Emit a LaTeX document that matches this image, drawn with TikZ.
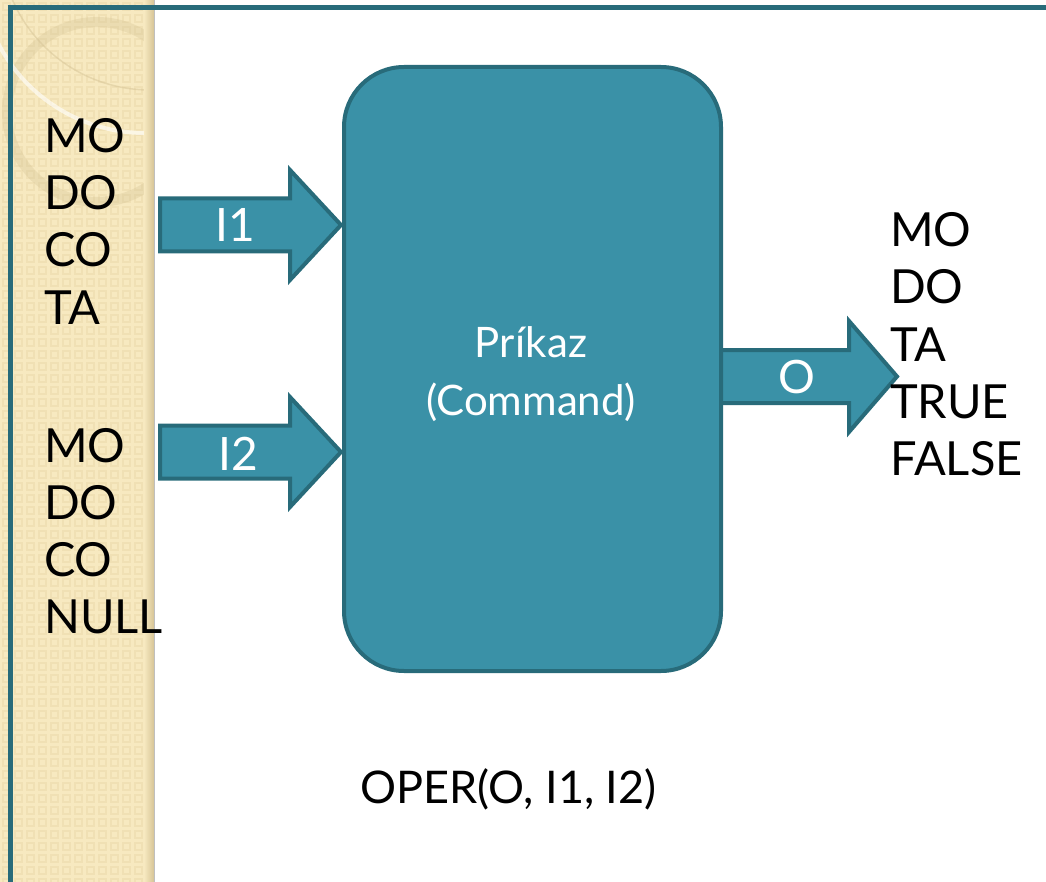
\documentclass[tikz,border=0pt]{standalone}
\usepackage{fontspec}
\setmainfont{Lato}

\definecolor{tealfill}{RGB}{58,145,167}
\definecolor{tealline}{RGB}{40,107,122}
\definecolor{paper}{RGB}{247,233,192}
\definecolor{paperdot}{RGB}{240,224,180}
\definecolor{papershade}{RGB}{214,196,150}

\tikzset{
  blockarrow/.style={fill=tealfill,draw=tealline,line width=4pt,line join=miter},
  cmdbox/.style={rectangle,rounded corners=60pt,fill=tealfill,draw=tealline,line width=4pt,
    minimum width=377pt,minimum height=604pt,inner sep=0pt},
  lbl/.style={inner sep=0pt,anchor=base west,font=\fontsize{47}{57}\selectfont},
  arrowlbl/.style={inner sep=0pt,anchor=base,text=white,font=\fontsize{46}{55}\selectfont},
  cmdlbl/.style={inner sep=0pt,anchor=base,text=white,font=\fontsize{42}{58}\selectfont},
}

\begin{document}
\begin{tikzpicture}[x=1pt,y=-1pt]
\useasboundingbox (0,0) rectangle (1046,882);

% beige side strip
\fill[paper] (0,0) rectangle (154,882);
\foreach \i in {0,...,12}
  \foreach \j in {0,...,73}
    \draw[paperdot,line width=1.2pt] (\i*12+3,\j*12+3) rectangle +(7,7);
\begin{scope}
\clip (0,0) rectangle (154,882);
\draw[papershade,opacity=0.35,line width=10pt] (97,112) circle (90);
\draw[white,opacity=0.6,line width=4pt] (145,-32) circle (165);
\draw[papershade,opacity=0.5,line width=1.5pt] (150,-60) circle (150);
\end{scope}
\shade[left color=paper,right color=papershade] (144,0) rectangle (154,882);
\draw[gray!50,line width=1pt] (154.5,0) -- (154.5,882);

% frame
\draw[tealline,line width=5pt] (10,5) -- (10,882);
\draw[tealline,line width=5pt] (7.5,7.5) -- (1046,7.5);

% block arrows
\draw[blockarrow] (160,198.5) -- (290,198.5) -- (290,170) -- (341,225) -- (290,280) -- (290,251.5) -- (160,251.5) -- cycle;
\draw[blockarrow] (160,425.5) -- (290,425.5) -- (290,397) -- (341,452) -- (290,507) -- (290,478.5) -- (160,478.5) -- cycle;
\draw[blockarrow] (715,350) -- (849,350) -- (849,321) -- (897,376.5) -- (849,432) -- (849,403) -- (715,403) -- cycle;

% command box
\node[cmdbox] (cmd) at (532.5,369) {};
\node[cmdlbl] (cmd1) at (531,357) {Príkaz};
\node[cmdlbl] (cmd2) at (531,415) {(Command)};

\node[arrowlbl] (i1) at (235,242) {I1};
\node[arrowlbl] (i2) at (238,470) {I2};
\node[arrowlbl] (o) at (797,393) {O};

% value lists
\foreach \w [count=\i from 0] in {MO,DO,CO,TA}
  \node[lbl] (inA\i) at (44,153+57*\i) {\w};
\foreach \w [count=\i from 0] in {MO,DO,CO,NULL}
  \node[lbl] (inB\i) at (44,462+57*\i) {\w};
\foreach \w [count=\i from 0] in {MO,DO,TA,TRUE,FALSE}
  \node[lbl] (out\i) at (890,247+57*\i) {\w};

\node[inner sep=0pt,anchor=base,font=\fontsize{45}{56}\selectfont] (oper) at (508.5,803) {OPER(O, I1, I2)};

\end{tikzpicture}
\end{document}
